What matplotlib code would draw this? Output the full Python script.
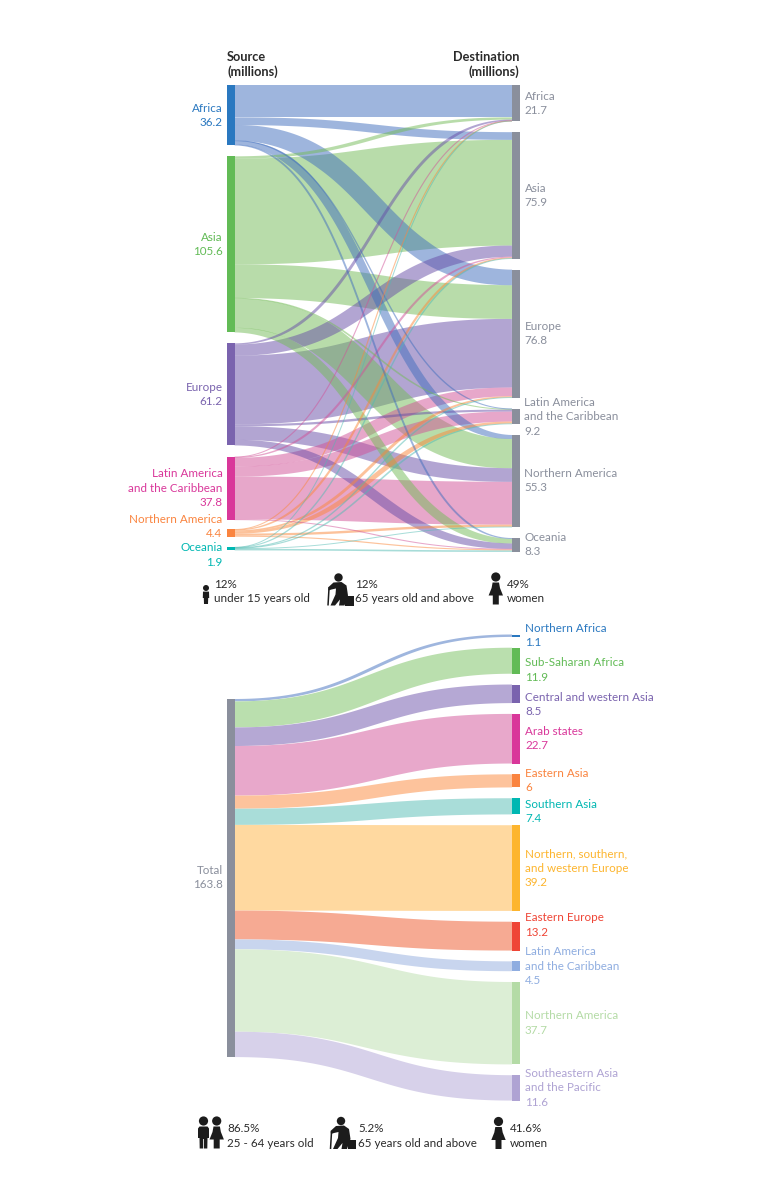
import numpy as np
import matplotlib
matplotlib.use("Agg")
from matplotlib import pyplot as plt
from matplotlib.patches import Rectangle, Circle, Polygon

plt.rcParams['font.family'] = ['Lato', 'DejaVu Sans']

# top panel, millions of migrants
regions = ["Africa", "Asia", "Europe", "Latin America\nand the Caribbean", "Northern America", "Oceania"]
source_totals = ["36.2", "105.6", "61.2", "37.8", "4.4", "1.9"]
dest_totals = ["21.7", "75.9", "76.8", "9.2", "55.3", "8.3"]

from_africa = [19.4, 4.6, 9.3, 0.2, 2.3, 0.4]
from_asia = [1.35, 63.45, 20.2, 0.3, 17.6, 2.7]
from_europe = [0.7, 6.65, 41.2, 1.2, 8.15, 3.3]
from_latin = [0.1, 0.5, 5.2, 6.0, 25.7, 0.3]
from_northern = [0.1, 0.5, 0.7, 1.2, 1.3, 0.6]
from_oceania = [0.05, 0.2, 0.2, 0.3, 0.2, 0.95]
flows = [from_africa, from_asia, from_europe, from_latin, from_northern, from_oceania]

# bottom panel, refugees destination regions
sub_regions = ["Northern Africa", "Sub-Saharan Africa", "Central and western Asia", "Arab states",
               "Eastern Asia", "Southern Asia", "Northern, southern,\nand western Europe", "Eastern Europe",
               "Latin America\nand the Caribbean", "Northern America", "Southeastern Asia\nand the Pacific"]
sub_values = [1.1, 11.9, 8.5, 22.7, 6, 7.4, 39.2, 13.2, 4.5, 37.7, 11.6]

source_colors = ["#2A78C0", "#62BB56", "#7A63AE", "#D9379A", "#FA843F", "#00B7B2"]
top_link_colors = ["#3F6DBD", "#73BB57", "#674DA7", "#D15197", "#FB8739", "#51BBB3"]
sub_colors = ["#2A78C0", "#62BB56", "#7A63AE", "#D9379A", "#FA843F", "#00B7B2",
              "#FDB52E", "#EF4536", "#8FADE0", "#B4DBA6", "#AFA3D3"]
sub_link_colors = ["#9FB6DE", "#BADFAE", "#B5A8D4", "#E8A8CB", "#FDC39C", "#A9DDD9",
                   "#FFD9A0", "#F6AA93", "#C8D5EE", "#DCEED5", "#D7D1EA"]
GREY = "#8A8F9C"
DARK = "#2A2A2A"
ICON = "#1c1c1c"

LEFT = 227
RIGHT = 512
BAR = 7.6
LINE = 14.4
FONT = 8.4

fig = plt.figure(figsize=(7.8, 12), dpi=100)
ax = fig.add_axes([0, 0, 1, 1])
ax.set_xlim(0, 780)
ax.set_ylim(1200, 0)
ax.axis("off")


def ribbon(x0, y0, x1, y1, width, color, alpha=1.0, bulge=4.5, min_width=0.9, z=2):
    # cubic link, gets a bit fatter where it runs steep (the original bands do this)
    xm = (x0 + x1) / 2
    t = np.linspace(0, 1, 120)
    x = (1 - t)**3 * x0 + 3 * (1 - t)**2 * t * xm + 3 * (1 - t) * t**2 * xm + t**3 * x1
    y = (1 - t)**3 * y0 + 3 * (1 - t)**2 * t * y0 + 3 * (1 - t) * t**2 * y1 + t**3 * y1
    dx = np.gradient(x)
    dy = np.gradient(y)
    norm = np.hypot(dx, dy)
    slope = np.abs(dy / dx)
    w = max(width, min_width) + bulge * min(1, width / 3) * np.minimum(1, slope / 0.7)
    nx = -dy / norm * w / 2
    ny = dx / norm * w / 2
    upper = np.column_stack([x + nx, y + ny])
    lower = np.column_stack([x - nx, y - ny])
    ax.add_patch(Polygon(np.vstack([upper, lower[::-1]]), closed=True, facecolor=color,
                         edgecolor="none", alpha=alpha, zorder=z))


def label(x, y, text, color, ha="left", weight="normal", size=FONT):
    for i, line in enumerate(text.split("\n")):
        ax.text(x, y + 0.4 + i * LINE, line, color=color, ha=ha, va="center", fontsize=size, fontweight=weight)


def woman(x, y):
    ax.add_patch(Circle((x, y), 4.6, color=ICON, lw=0))
    ax.add_patch(Polygon([(x - 3.2, y + 5.5), (x + 3.2, y + 5.5), (x + 4.2, y + 11), (x + 7.2, y + 18.5), (x + 3, y + 18.5),
                          (x + 3, y + 27.5), (x - 3, y + 27.5), (x - 3, y + 18.5), (x - 7.2, y + 18.5), (x - 4.2, y + 11)],
                         color=ICON, lw=0))


def man(x, y):
    ax.add_patch(Circle((x, y), 4.6, color=ICON, lw=0))
    ax.add_patch(Polygon([(x - 4, y + 5.5), (x + 4, y + 5.5), (x + 5.5, y + 7.5), (x + 5.5, y + 17), (x + 4, y + 17),
                          (x + 3.8, y + 27.5), (x + 0.4, y + 27.5), (x + 0.4, y + 18), (x - 0.4, y + 18), (x - 0.4, y + 27.5),
                          (x - 3.8, y + 27.5), (x - 4, y + 17), (x - 5.5, y + 17), (x - 5.5, y + 7.5)],
                         color=ICON, lw=0))


def elder(x, y):
    ax.add_patch(Circle((x, y), 4.2, color=ICON, lw=0))
    ax.add_patch(Polygon([(x - 5, y + 5), (x + 3, y + 4.5), (x + 8, y + 8), (x + 9.5, y + 18), (x + 6, y + 28),
                          (x + 0.5, y + 28), (x + 1.5, y + 22), (x - 3.5, y + 28), (x - 8, y + 28), (x - 3, y + 17),
                          (x - 2.5, y + 11), (x - 7, y + 12), (x - 10, y + 13), (x - 10.5, y + 10)],
                         color=ICON, lw=0))
    ax.plot([x - 9.5, x - 10.5], [y + 11, y + 28], color=ICON, lw=1.1, solid_capstyle="butt")
    ax.add_patch(Rectangle((x + 6.5, y + 18.5), 8.5, 9.5, color=ICON, lw=0))


def child(x, y):
    ax.add_patch(Circle((x, y), 3.0, color=ICON, lw=0))
    ax.add_patch(Polygon([(x - 3, y + 3.6), (x + 3, y + 3.6), (x + 3.2, y + 10), (x + 2.2, y + 10), (x + 2, y + 16),
                          (x - 2, y + 16), (x - 2.2, y + 10), (x - 3.2, y + 10)], color=ICON, lw=0))


# top sankey
scale = 1.667
source_gaps = [11, 11, 11.5, 9.5, 10.5]
dest_gaps = [11, 11, 11, 11, 11]

source_tops = []
y = 85
for i, row in enumerate(flows):
    source_tops.append(y)
    if i < 5:
        y += sum(row) * scale + source_gaps[i]

dest_tops = []
y = 85
for j in range(6):
    dest_tops.append(y)
    if j < 5:
        y += sum(row[j] for row in flows) * scale + dest_gaps[j]

links = []
dest_cursor = list(dest_tops)
for i, row in enumerate(flows):
    sy = source_tops[i]
    ax.add_patch(Rectangle((LEFT, sy), BAR, sum(row) * scale, color=source_colors[i], lw=0, zorder=3))
    for j, val in enumerate(row):
        w = val * scale
        links.append((val, sy + w / 2, dest_cursor[j] + w / 2, w, top_link_colors[i]))
        sy += w
        dest_cursor[j] += w

# big flows go underneath, small ones on top
links.sort(key=lambda l: -l[0])
for rank, (val, y0, y1, w, color) in enumerate(links):
    ribbon(LEFT + BAR, y0, RIGHT, y1, w, color, alpha=0.5, z=2 + rank * 0.01)

for j in range(6):
    h = sum(row[j] for row in flows) * scale
    ax.add_patch(Rectangle((RIGHT, dest_tops[j]), BAR, h, color=GREY, lw=0, zorder=3))

source_label_y = [108, 237, 387, 473.5, 519, 547.5]
dest_label_y = [96, 188, 326, 402, 473, 537]
for i in range(6):
    label(222.5, source_label_y[i], regions[i] + "\n" + source_totals[i], source_colors[i], ha="right")
    label(524.5, dest_label_y[i], regions[i] + "\n" + dest_totals[i], GREY)

label(227, 57, "Source\n(millions)", DARK, weight="bold", size=9.2)
label(519.5, 57, "Destination\n(millions)", DARK, ha="right", weight="bold", size=9.2)

child(206, 588)
label(214, 584, "12%\nunder 15 years old", DARK)
elder(338.5, 577.5)
label(355, 584, "12%\n65 years old and above", DARK)
woman(495.8, 577)
label(507, 584, "49%\nwomen", DARK)

# bottom sankey
sub_scale = 2.186
sub_gap = 10.8
total_top = 699
ax.add_patch(Rectangle((LEFT, total_top), BAR, sum(sub_values) * sub_scale, color=GREY, lw=0, zorder=3))
sub_label_y = [628, 662.5, 697, 731, 773, 804, 853.5, 917.5, 951.5, 1015.5, 1073]

sy = total_top
dy_cursor = 634.5
for k, val in enumerate(sub_values):
    w = val * sub_scale
    ribbon(LEFT + BAR, sy + w / 2, RIGHT, dy_cursor + w / 2, w, sub_link_colors[k], bulge=1.2)
    ax.add_patch(Rectangle((RIGHT, dy_cursor), BAR, w, color=sub_colors[k], lw=0, zorder=3))
    label(525, sub_label_y[k], sub_regions[k] + "\n" + str(val), sub_colors[k])
    sy += w
    dy_cursor += w + sub_gap

label(222.5, 870, "Total\n163.8", GREY, ha="right")

man(203.5, 1121)
woman(216.7, 1121)
label(227, 1128.5, "86.5%\n25 - 64 years old", DARK)
elder(341, 1121)
label(358, 1128.5, "5.2%\n65 years old and above", DARK)
woman(498.5, 1121.5)
label(510, 1128.5, "41.6%\nwomen", DARK)

fig.savefig("out.png", dpi=100, facecolor="white")
